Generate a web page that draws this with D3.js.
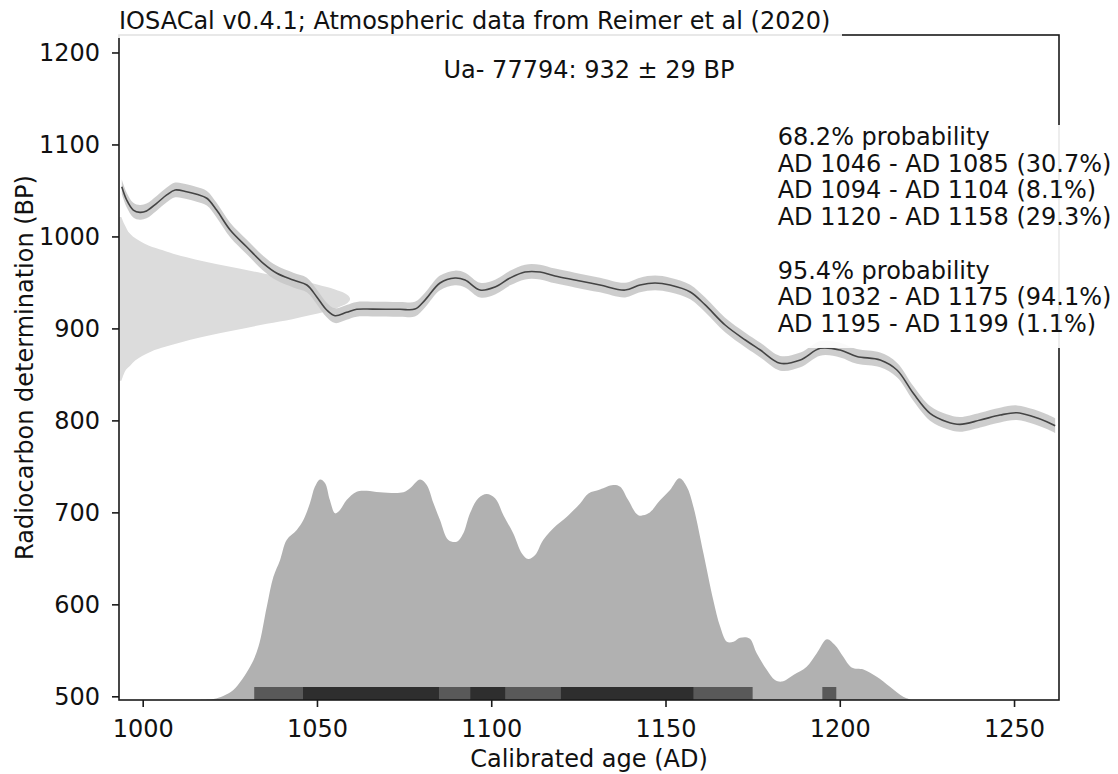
<!DOCTYPE html>
<html>
<head>
<meta charset="utf-8">
<script src="https://cdn.jsdelivr.net/npm/d3@7"></script>
<style>
  html, body { margin: 0; padding: 0; background: #fff; }
  svg { display: block; }
  svg text { font-family: "DejaVu Sans", sans-serif; fill: #111; }
</style>
</head>
<body>
<div id="chart"></div>
<script>
// Values
const titleText = "IOSACal v0.4.1; Atmospheric data from Reimer et al (2020)";
const sampleName = "Ua- 77794";
const sampleBP = 932;
const sampleErr = 29;

const xDomain = [993.2, 1262.9];
const yDomain = [496, 1219];
const xTicks = [1000, 1050, 1100, 1150, 1200, 1250];
const yTicks = [500, 600, 700, 800, 900, 1000, 1100, 1200];

// calibration curve (IntCal20 segment): calendar year, BP, 1 sigma
const curveYears = [994.0, 995.4, 997.3, 999.2, 1001.1, 1004.0, 1006.9, 1009.3, 1012.6, 1015.5, 1018.4, 1021.2, 1025.1, 1029.8, 1034.6, 1038.5, 1043.2, 1047.1, 1049.9, 1052.8, 1055.2, 1058.5, 1061.4, 1066.0, 1073.8, 1078.1, 1081.0, 1085.3, 1089.6, 1092.5, 1096.8, 1101.1, 1105.4, 1109.7, 1114.0, 1118.3, 1124.0, 1131.2, 1138.4, 1142.7, 1147.0, 1151.3, 1157.1, 1161.4, 1167.1, 1172.9, 1177.2, 1182.9, 1188.7, 1194.4, 1200.1, 1204.9, 1211.6, 1216.4, 1221.1, 1225.9, 1230.7, 1234.5, 1240.3, 1246.0, 1250.8, 1255.6, 1259.4, 1261.8];
const curveBP = [1054, 1039.6, 1028.7, 1026.2, 1027.7, 1036, 1045.1, 1050.5, 1048.6, 1045.8, 1041.5, 1028.7, 1007, 988.8, 970.8, 960, 952.6, 947.2, 934.5, 920, 913.8, 917.5, 920.8, 921, 920.8, 921, 930.8, 949.4, 954.8, 952.6, 941.7, 945, 954.8, 961.3, 961.3, 957, 952.6, 947.2, 941.7, 947.2, 949.4, 947.2, 939.6, 925.5, 903.7, 887.4, 876.5, 862.1, 865.7, 878.4, 876.5, 869.5, 865.7, 854.8, 829.4, 807.7, 798.6, 795.7, 800.4, 805.8, 808.3, 804, 798.6, 794.2];
const curveErr = 8;

// radiocarbon determination, relative density by BP
const rcBP = [1021, 1015, 1010, 1005, 1000, 995, 990, 985, 980, 975, 970, 965, 960, 955, 950, 945, 940, 936, 932, 928, 924, 920, 915, 910, 905, 900, 895, 890, 885, 880, 875, 870, 865, 860, 855, 850, 843];
const rcDensity = [0.01, 0.02, 0.03, 0.04, 0.06, 0.09, 0.13, 0.19, 0.25, 0.33, 0.42, 0.52, 0.62, 0.72, 0.82, 0.9, 0.96, 0.99, 1.0, 0.99, 0.96, 0.92, 0.84, 0.75, 0.64, 0.54, 0.44, 0.35, 0.27, 0.2, 0.14, 0.1, 0.07, 0.05, 0.03, 0.02, 0.01];
const rcPeakYear = 1059.5;

// calibrated age probability, relative to the highest peak
const calYears = [1016.4, 1020.3, 1023.1, 1026.0, 1030.8, 1033.2, 1035.6, 1037.5, 1039.4, 1041.3, 1044.2, 1046.1, 1048.0, 1049.4, 1050.9, 1052.3, 1053.7, 1055.2, 1056.6, 1058.5, 1061.4, 1064.3, 1068.1, 1074.8, 1076.7, 1079.6, 1081.5, 1083.4, 1085.3, 1087.7, 1090.1, 1092.0, 1093.9, 1096.3, 1098.7, 1101.1, 1103.5, 1106.3, 1108.8, 1110.6, 1112.6, 1114.9, 1118.8, 1121.7, 1125.5, 1127.9, 1131.2, 1135.0, 1137.0, 1139.3, 1142.2, 1145.1, 1148.5, 1151.3, 1154.0, 1156.1, 1158.0, 1160.9, 1163.7, 1165.7, 1167.6, 1169.5, 1171.4, 1174.1, 1176.2, 1179.1, 1181.4, 1183.4, 1186.7, 1190.5, 1193.4, 1196.3, 1198.6, 1201.0, 1203.4, 1206.8, 1210.6, 1214.4, 1218.2, 1220.2];
const calProb = [0, 0.004, 0.018, 0.045, 0.15, 0.24, 0.421, 0.556, 0.631, 0.722, 0.767, 0.812, 0.889, 0.962, 0.995, 0.979, 0.902, 0.842, 0.857, 0.902, 0.94, 0.944, 0.937, 0.937, 0.955, 0.995, 0.97, 0.889, 0.812, 0.722, 0.714, 0.752, 0.842, 0.91, 0.929, 0.91, 0.834, 0.752, 0.661, 0.636, 0.654, 0.722, 0.789, 0.827, 0.887, 0.932, 0.95, 0.97, 0.962, 0.902, 0.834, 0.842, 0.902, 0.947, 1.0, 0.962, 0.872, 0.661, 0.451, 0.33, 0.263, 0.263, 0.281, 0.278, 0.21, 0.135, 0.09, 0.083, 0.113, 0.15, 0.211, 0.274, 0.248, 0.195, 0.147, 0.138, 0.105, 0.06, 0.015, 0.003];
const calPeakBP = 737;

// highest probability density ranges
const intervals68 = [[1046, 1085], [1094, 1104], [1120, 1158]];
const percents68 = [30.7, 8.1, 29.3];
const intervals95 = [[1032, 1175], [1195, 1199]];
const percents95 = [94.1, 1.1];

const width = 1118;
const height = 774;
const margin = { top: 35, right: 59, bottom: 74, left: 119 };
const innerWidth = width - margin.left - margin.right;
const innerHeight = height - margin.top - margin.bottom;
const fontSize = 24;

const svg = d3
  .select("#chart")
  .append("svg")
  .attr("width", width)
  .attr("height", height);

const x = d3.scaleLinear().domain(xDomain).range([0, innerWidth]);
const y = d3.scaleLinear().domain(yDomain).range([innerHeight, 0]);
// radiocarbon density drawn sideways from the left edge
const rcX = d3.scaleLinear().domain([0, 1]).range([0, x(rcPeakYear)]);
// calibrated probability drawn up from the bottom edge
const probY = d3.scaleLinear().domain([0, 1]).range([y(yDomain[0]), y(calPeakBP)]);

const g = svg
  .append("g")
  .attr("transform", `translate(${margin.left},${margin.top})`);

const defs = svg.append("defs");
defs.append("clipPath")
  .attr("id", "plot-clip")
  .append("rect")
  .attr("width", innerWidth)
  .attr("height", innerHeight);
const plot = g.append("g").attr("clip-path", "url(#plot-clip)");

// radiocarbon determination
const rcData = rcBP.map((bp, i) => ({ bp, d: rcDensity[i] }));
plot
  .append("path")
  .datum(rcData)
  .attr("fill", "#dcdcdc")
  .attr(
    "d",
    d3.area()
      .y((d) => y(d.bp))
      .x0(rcX(0))
      .x1((d) => rcX(d.d))
      .curve(d3.curveCatmullRom)
  );

// calibration curve band and line
const curveData = curveYears.map((yr, i) => ({ yr, bp: curveBP[i] }));
plot
  .append("path")
  .datum(curveData)
  .attr("fill", "#c8c8c8")
  .attr("fill-opacity", 0.9)
  .attr(
    "d",
    d3.area()
      .x((d) => x(d.yr))
      .y0((d) => y(d.bp - curveErr))
      .y1((d) => y(d.bp + curveErr))
      .curve(d3.curveCatmullRom)
  );

plot
  .append("path")
  .datum(curveData)
  .attr("fill", "none")
  .attr("stroke", "#444")
  .attr("stroke-width", 1.6)
  .attr(
    "d",
    d3.line()
      .x((d) => x(d.yr))
      .y((d) => y(d.bp))
      .curve(d3.curveCatmullRom)
  );

// calibrated age distribution
const calData = calYears.map((yr, i) => ({ yr, p: calProb[i] }));
plot
  .append("path")
  .datum(calData)
  .attr("fill", "#b1b1b1")
  .attr(
    "d",
    d3.area()
      .x((d) => x(d.yr))
      .y0(probY(0))
      .y1((d) => probY(d.p))
      .curve(d3.curveCatmullRom)
  );

// interval bars
const barHeight = 13;
plot
  .selectAll(".bar95")
  .data(intervals95)
  .join("rect")
  .attr("class", "bar95")
  .attr("x", (d) => x(d[0]))
  .attr("width", (d) => x(d[1]) - x(d[0]))
  .attr("y", innerHeight - barHeight)
  .attr("height", barHeight)
  .attr("fill", "#595959");

plot
  .selectAll(".bar68")
  .data(intervals68)
  .join("rect")
  .attr("class", "bar68")
  .attr("x", (d) => x(d[0]))
  .attr("width", (d) => x(d[1]) - x(d[0]))
  .attr("y", innerHeight - barHeight)
  .attr("height", barHeight)
  .attr("fill", "#2e2e2e");

// axes
const xAxis = g
  .append("g")
  .attr("transform", `translate(0,${innerHeight})`)
  .call(d3.axisBottom(x).tickValues(xTicks).tickSize(7).tickPadding(13).tickFormat(d3.format("d")));

const yAxis = g
  .append("g")
  .call(d3.axisLeft(y).tickValues(yTicks).tickSize(7).tickPadding(12).tickFormat(d3.format("d")));

[xAxis, yAxis].forEach((ax) => {
  ax.select(".domain").remove();
  ax.attr("font-family", null).attr("font-size", null);
  ax.selectAll("line").attr("stroke", "#1a1a1a").attr("stroke-width", 1.6);
  ax.selectAll("text").style("font-size", fontSize + "px").attr("fill", "#111");
});

// frame
g.append("rect")
  .attr("width", innerWidth)
  .attr("height", innerHeight)
  .attr("fill", "none")
  .attr("stroke", "#1a1a1a")
  .attr("stroke-width", 1.6);

// axis labels
svg
  .append("text")
  .attr("x", margin.left + innerWidth / 2)
  .attr("y", 767)
  .style("text-anchor", "middle")
  .style("font-size", fontSize + "px")
  .text("Calibrated age (AD)");

svg
  .append("text")
  .attr("transform", `translate(33,${margin.top + innerHeight / 2}) rotate(-90)`)
  .style("text-anchor", "middle")
  .style("font-size", fontSize + "px")
  .text("Radiocarbon determination (BP)");

// title with a white box over the top spine
svg
  .append("rect")
  .attr("x", 107)
  .attr("y", 4)
  .attr("width", 735)
  .attr("height", 34)
  .attr("fill", "#fff")
  .attr("fill-opacity", 0.88);

svg
  .append("text")
  .attr("x", margin.left)
  .attr("y", 29)
  .style("font-size", fontSize + "px")
  .text(titleText);

// sample label, centred on the plot
svg
  .append("text")
  .attr("x", margin.left + innerWidth / 2)
  .attr("y", 78)
  .style("text-anchor", "middle")
  .style("font-size", fontSize + "px")
  .text(`${sampleName}: ${sampleBP} ± ${sampleErr} BP`);

// interval text block
const legendLines = [
  "68.2% probability",
  ...intervals68.map((d, i) => `AD ${d[0]} - AD ${d[1]} (${percents68[i]}%)`),
  "",
  "95.4% probability",
  ...intervals95.map((d, i) => `AD ${d[0]} - AD ${d[1]} (${percents95[i]}%)`),
];

svg
  .append("rect")
  .attr("x", 770)
  .attr("y", 125)
  .attr("width", width - 770)
  .attr("height", 223)
  .attr("fill", "#fff")
  .attr("fill-opacity", 0.9);

svg
  .append("g")
  .selectAll("text")
  .data(legendLines)
  .join("text")
  .attr("x", 777.7)
  .attr("y", (d, i) => 145 + i * 26.7)
  .style("font-size", fontSize + "px")
  .text((d) => d);
</script>
</body>
</html>
